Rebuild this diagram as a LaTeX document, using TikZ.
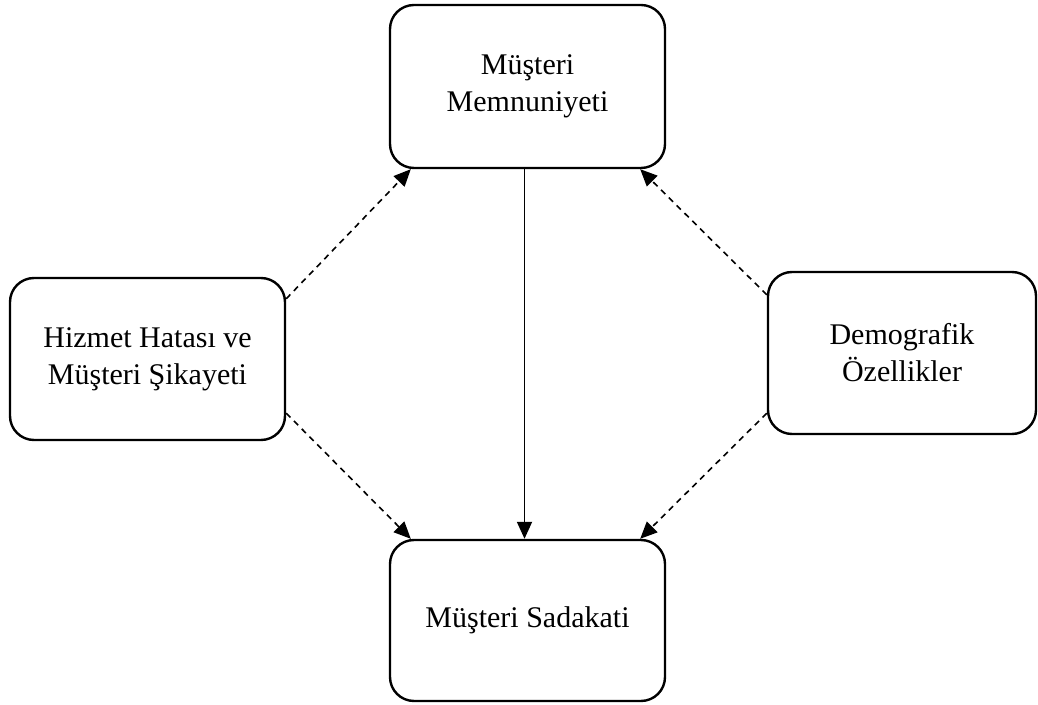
\documentclass[tikz,border=0pt]{standalone}
\usepackage{fontspec}
\setmainfont{Liberation Serif}
\usetikzlibrary{arrows.meta,calc}
\begin{document}
\begin{tikzpicture}[x=1pt,y=1pt,
  box/.style={draw, line width=2.4pt, rounded corners=24pt, align=center,
    inner sep=0pt, font=\fontsize{30}{37}\selectfont},
  solidarrow/.style={line width=1.8pt, -{Triangle[length=17pt,width=15pt]}},
  dasharrow/.style={line width=1.6pt, dash pattern=on 6pt off 5pt, -{Triangle[length=17pt,width=15pt]}}]
\useasboundingbox (0,0) rectangle (1038,704);
\node[box, minimum width=275pt, minimum height=163pt] (T) at (527.5,617.5) {Müşteri\\Memnuniyeti};
\node[box, minimum width=275pt, minimum height=162pt] (L) at (147.5,345) {Hizmet Hatası ve\\Müşteri Şikayeti};
\node[box, minimum width=268pt, minimum height=162pt] (R) at (902,351) {Demografik\\Özellikler};
\node[box, minimum width=275pt, minimum height=161pt] (B) at (527.5,83.5) {Müşteri Sadakati};
\draw[solidarrow] ($(T.south)+(-3,0)$) -- ($(B.north)+(-3,0)$);
\draw[dasharrow] ($(L.north east)+(0,-22)$) -- ($(T.south west)+(22,0)$);
\draw[dasharrow] ($(L.south east)+(0,28)$) -- ($(B.north west)+(22,0)$);
\draw[dasharrow] ($(R.north west)+(0,-24)$) -- ($(T.south east)+(-26,0)$);
\draw[dasharrow] ($(R.south west)+(0,22)$) -- ($(B.north east)+(-26,0)$);
\end{tikzpicture}
\end{document}
